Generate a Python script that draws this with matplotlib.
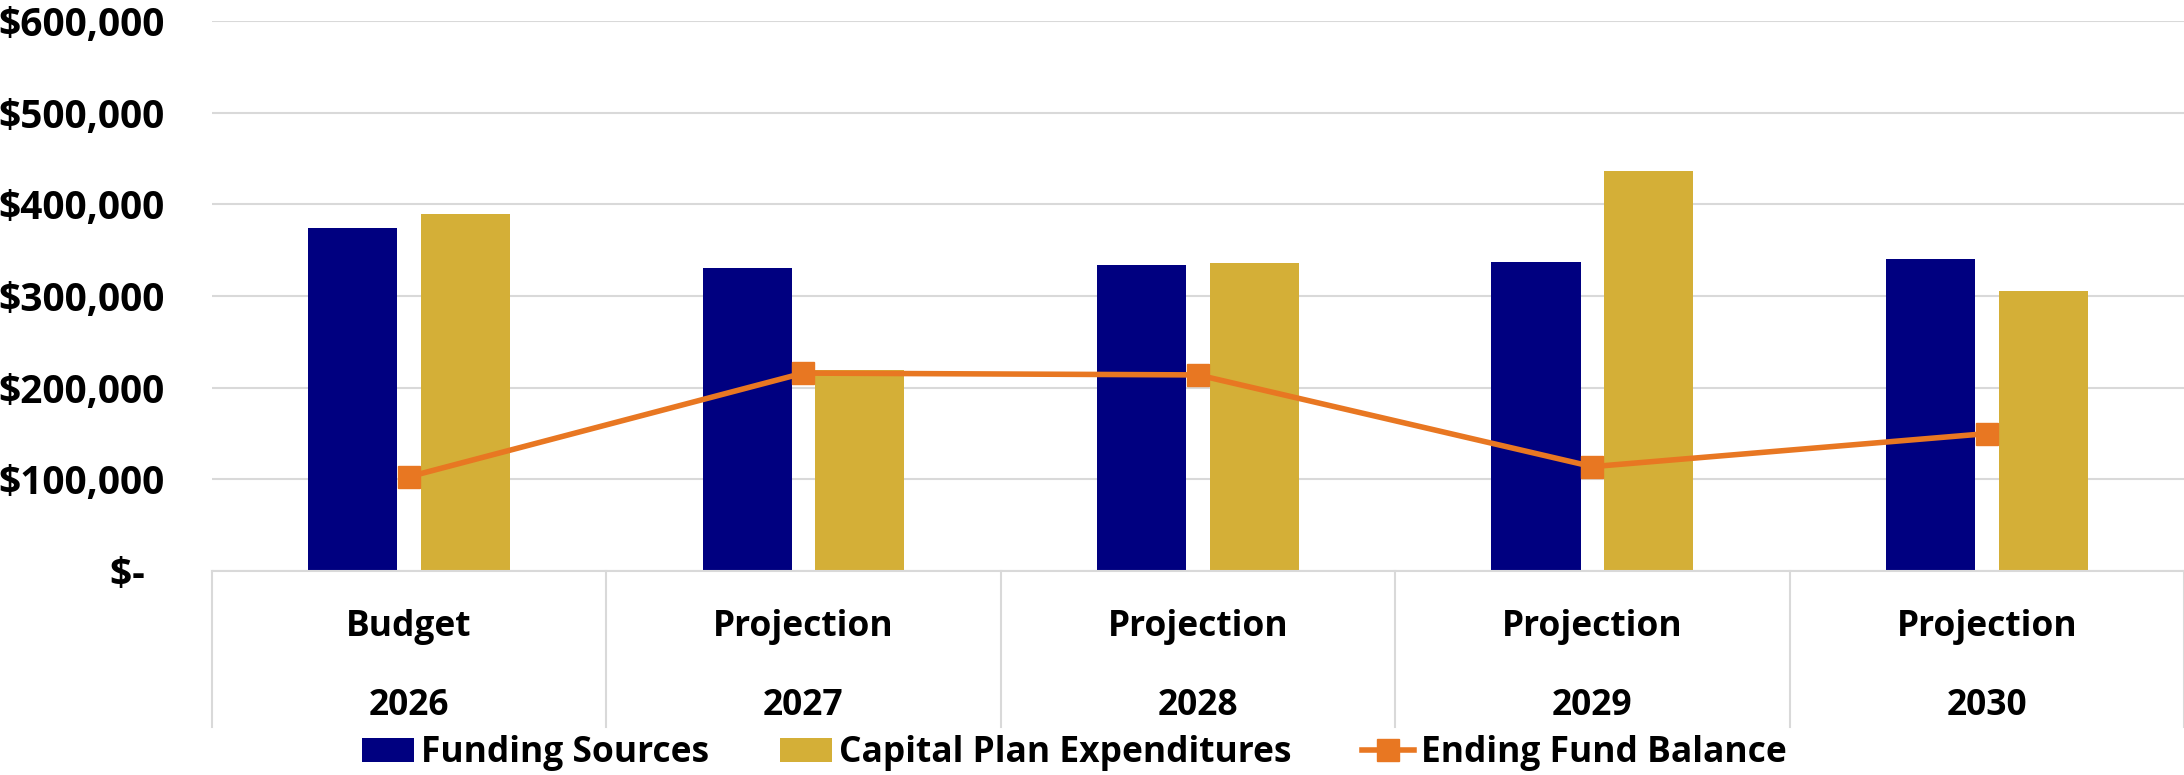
import matplotlib.pyplot as plt
import numpy as np
from matplotlib.ticker import FuncFormatter

plt.rcParams["font.family"] = ["Open Sans", "DejaVu Sans"]

stages = ["Budget", "Projection", "Projection", "Projection", "Projection"]
years = ["2026", "2027", "2028", "2029", "2030"]
funding = [373700, 331000, 334000, 337000, 340000]
capital = [390000, 219000, 336000, 436000, 305000]
ending = [103000, 216000, 214000, 114000, 150000]

NAVY = "#000080"
GOLD = "#D4AF37"
ORANGE = "#E87722"
GRID = "#D9D9D9"

fig = plt.figure(figsize=(21.84, 7.75), dpi=100)
ax = fig.add_axes([0.097, 0.263, 0.903, 0.710])

x = np.arange(len(years))
w = 0.226
off = 0.143
b1 = ax.bar(x - off, funding, w, color=NAVY, label="Funding Sources", zorder=2)
b2 = ax.bar(x + off, capital, w, color=GOLD, label="Capital Plan Expenditures", zorder=2)
ln, = ax.plot(x, ending, color=ORANGE, lw=4, marker="s", markersize=16,
              label="Ending Fund Balance", zorder=3)

ax.set_xlim(-0.5, len(years) - 0.5)
ax.set_ylim(0, 600000)
ax.set_yticks(np.arange(0, 600001, 100000))


def money(v, pos):
    if v == 0:
        return "$-  "
    return f"${v:,.0f}"


ax.yaxis.set_major_formatter(FuncFormatter(money))
ax.tick_params(axis="y", length=0, pad=34, labelsize=28)
for t in ax.get_yticklabels():
    t.set_fontweight("bold")
ax.set_xticks([])
ax.grid(axis="y", color=GRID, lw=1.5, zorder=0)
for s in ["top", "right", "left"]:
    ax.spines[s].set_visible(False)
ax.spines["bottom"].set_color(GRID)
ax.spines["bottom"].set_linewidth(1.5)

# two-level category axis: separators plus stage / year labels
trans = ax.get_xaxis_transform()
for b in np.arange(-0.5, len(years), 1.0):
    ax.plot([b, b], [0, -0.284], transform=trans, color=GRID, lw=1.5,
            clip_on=False)
for i in x:
    ax.text(i, -0.102, stages[i], transform=trans, ha="center", va="center",
            fontsize=25.5, fontweight="bold")
    ax.text(i, -0.245, years[i], transform=trans, ha="center", va="center",
            fontsize=25.5, fontweight="bold")

fig.legend(handles=[b1, b2, ln], loc="center", bbox_to_anchor=(0.492, 0.028),
           ncol=3, frameon=False, prop={"weight": "bold", "size": 25.5},
           handlelength=1.46, handletextpad=0.2, columnspacing=2.0)

fig.savefig("out.png", dpi=100)
